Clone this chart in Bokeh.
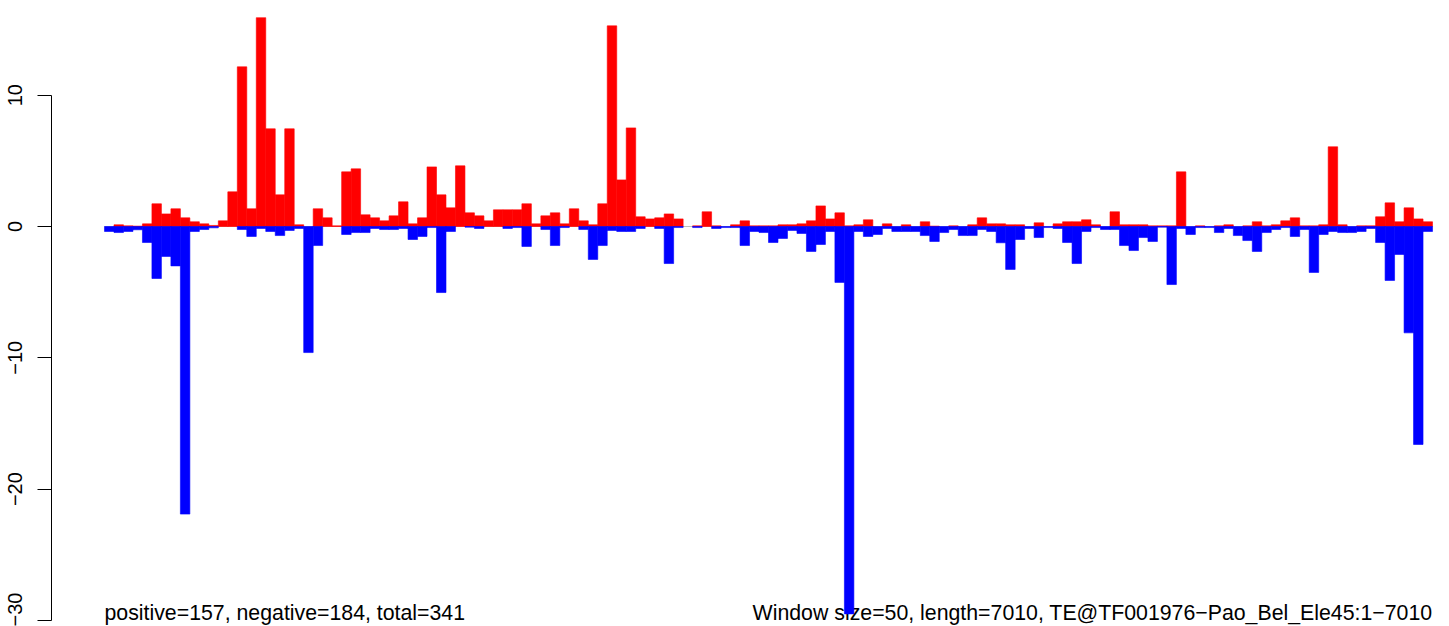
from bokeh.plotting import figure
from bokeh.models import Range1d, FixedTicker, ColumnDataSource
from bokeh.core.properties import value
from bokeh.embed import file_html
from bokeh.resources import INLINE

# ---- data (one value per 50-bp window) ----
positive = [
    0.0, 0.13, 0.05, 0.03, 0.2, 1.73, 0.96, 1.35, 0.66, 0.36,
    0.2, 0.08, 0.43, 2.64, 12.16, 1.35, 15.9, 7.44, 2.41, 7.44,
    0.13, 0.0, 1.35, 0.66, 0.05, 4.16, 4.39, 0.89, 0.66, 0.43,
    0.81, 1.88, 0.2, 0.66, 4.54, 2.41, 1.42, 4.62, 1.04, 0.81,
    0.43, 1.27, 1.27, 1.27, 1.73, 0.2, 0.81, 1.04, 0.2, 1.35,
    0.43, 0.13, 1.73, 15.28, 3.55, 7.51, 0.74, 0.58, 0.66, 0.96,
    0.58, 0.0, 0.05, 1.12, 0.05, 0.0, 0.13, 0.43, 0.05, 0.05,
    0.05, 0.13, 0.13, 0.2, 0.43, 1.57, 0.58, 1.04, 0.05, 0.13,
    0.51, 0.0, 0.2, 0.0, 0.13, 0.0, 0.36, 0.03, 0.0, 0.05,
    0.0, 0.13, 0.66, 0.2, 0.2, 0.13, 0.13, 0.0, 0.28, 0.0,
    0.2, 0.36, 0.36, 0.51, 0.13, 0.0, 1.12, 0.13, 0.13, 0.13,
    0.05, 0.05, 0.05, 4.16, 0.0, 0.05, 0.0, 0.05, 0.13, 0.0,
    0.05, 0.36, 0.05, 0.13, 0.43, 0.66, 0.05, 0.05, 0.13, 6.07,
    0.13, 0.0, 0.05, 0.05, 0.74, 1.8, 0.36, 1.42, 0.58, 0.36,
]
negative = [
    -0.38, -0.46, -0.38, -0.25, -1.22, -3.96, -2.28, -3.0, -21.9, -0.38,
    -0.23, -0.1, 0.0, 0.0, -0.23, -0.76, -0.15, -0.38, -0.69, -0.3,
    -0.15, -9.6, -1.45, 0.0, 0.0, -0.61, -0.46, -0.46, -0.15, -0.23,
    -0.23, -0.15, -0.99, -0.76, -0.08, -5.03, -0.38, 0.0, -0.05, -0.15,
    0.0, 0.0, -0.15, -0.08, -1.52, 0.0, -0.23, -1.45, -0.08, 0.0,
    -0.23, -2.51, -1.45, -0.3, -0.38, -0.38, -0.15, 0.0, -0.15, -2.82,
    -0.08, 0.0, -0.08, 0.0, -0.15, -0.08, -0.08, -1.45, -0.38, -0.46,
    -1.22, -0.91, -0.3, -0.53, -1.9, -1.37, -0.38, -4.26, -29.5, -0.38,
    -0.76, -0.61, -0.15, -0.38, -0.38, -0.38, -0.69, -1.14, -0.46, -0.23,
    -0.69, -0.69, -0.23, -0.38, -1.24, -3.27, -0.99, -0.15, -0.84, -0.08,
    -0.15, -1.22, -2.82, -0.38, -0.08, -0.23, -0.23, -1.45, -1.83, -0.84,
    -1.14, -0.05, -4.42, -0.15, -0.61, -0.08, -0.08, -0.46, -0.15, -0.69,
    -1.07, -1.9, -0.46, -0.23, -0.08, -0.76, -0.23, -3.5, -0.61, -0.38,
    -0.46, -0.46, -0.38, -0.15, -1.22, -4.11, -2.13, -8.1, -16.6, -0.38,
]
y_ticks = [-30, -20, -10, 0, 10]
y_tick_labels = ["\u221230", "\u221220", "\u221210", "0", "10"]
left_note = "positive=157, negative=184, total=341"
right_note = "Window size=50, length=7010, TE@TF001976\u2212Pao_Bel_Ele45:1\u22127010"

n = len(positive)

pos_src = ColumnDataSource(dict(
    x=[i + 0.5 for i in range(n) if positive[i] != 0],
    top=[v for v in positive if v != 0],
))
neg_src = ColumnDataSource(dict(
    x=[i + 0.5 for i in range(n) if negative[i] != 0],
    bottom=[v for v in negative if v != 0],
))

p = figure(
    width=1449, height=626,
    output_backend="svg", toolbar_location=None,
    x_range=Range1d(-5.587, 141.79),
    y_range=Range1d(-30.46, 17.21),
    x_axis_location=None,
    min_border_left=51, min_border_right=0,
    min_border_top=0, min_border_bottom=0,
)
p.outline_line_color = None
p.grid.visible = False
p.background_fill_color = "white"
p.border_fill_color = "white"

FONT = "Liberation Sans"

# notes (drawn first so the bars sit on top of them)
p.text(x=[0], y=[-29.4], text=[left_note], text_align="left",
       text_baseline="alphabetic", text_font=value(FONT),
       text_font_size="21.3px", text_color="black")
p.text(x=[n], y=[-29.4], text=[right_note], text_align="right",
       text_baseline="alphabetic", text_font=value(FONT),
       text_font_size="21.3px", text_color="black")

# zero reference line
p.segment(x0=[0], y0=[0], x1=[n], y1=[0], line_color="#BEBEBE", line_width=1.2)

p.vbar(x="x", top="top", bottom=0, width=1, source=pos_src,
       fill_color="#FF0000", line_color="#FF0000", line_width=0.6)
p.vbar(x="x", top=0, bottom="bottom", width=1, source=neg_src,
       fill_color="#0000FF", line_color="#0000FF", line_width=0.6)

ax = p.yaxis[0]
ax.ticker = FixedTicker(ticks=y_ticks)
ax.major_label_overrides = {t: l for t, l in zip(y_ticks, y_tick_labels)}
ax.bounds = (-30, 10)
ax.major_label_orientation = "vertical"
ax.major_tick_out = 14
ax.major_tick_in = 0
ax.minor_tick_out = 0
ax.minor_tick_in = 0
ax.major_label_standoff = 15
ax.axis_line_color = "black"
ax.major_tick_line_color = "black"
ax.axis_line_width = 1
ax.major_tick_line_width = 1
ax.major_label_text_font = FONT
ax.major_label_text_font_size = "20px"
ax.major_label_text_color = "black"

open("out.html", "w").write(file_html(p, INLINE))
